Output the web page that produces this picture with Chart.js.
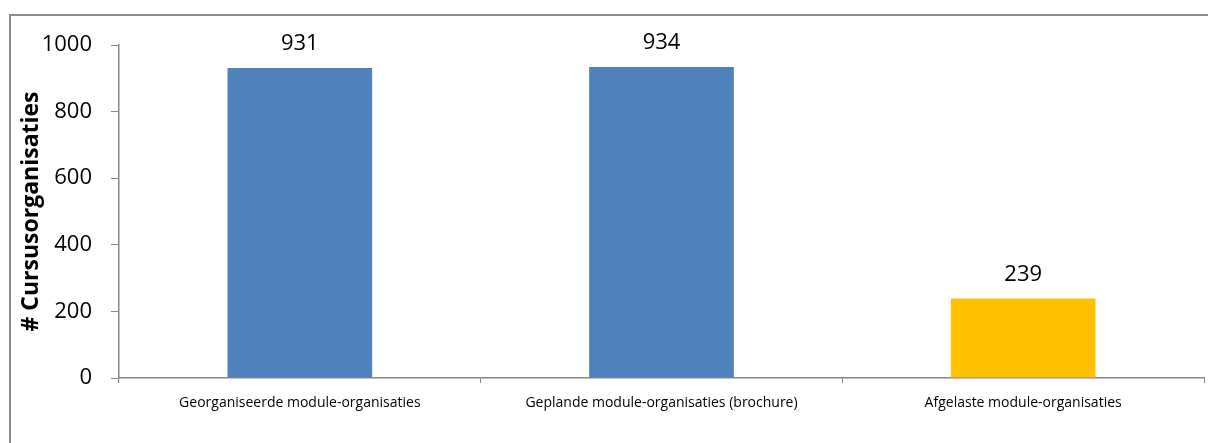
<!DOCTYPE html>
<html lang="nl">
<head>
    <meta charset="UTF-8">
    <title>Cursusorganisaties</title>
    <script src="https://cdn.jsdelivr.net/npm/chart.js"></script>
    <style>
        body {
            margin: 0;
            background: #fff;
            overflow: hidden;
        }
        .wrap {
            position: relative;
            width: 1208px;
            height: 443px;
        }
        .frame {
            position: absolute;
            left: 9px;
            top: 14px;
            width: 1300px;
            height: 600px;
            border-left: 2px solid #8c8c8c;
            border-top: 2px solid #8c8c8c;
        }
        canvas {
            position: absolute;
            left: 0;
            top: 0;
        }
    </style>
</head>
<body>
<div class="wrap">
    <div class="frame"></div>
    <canvas id="myChart" width="1208" height="443"></canvas>
</div>
<script>
    const categories = [
        'Georganiseerde module-organisaties',
        'Geplande module-organisaties (brochure)',
        'Afgelaste module-organisaties'
    ];
    const counts = [931, 934, 239];
    const barColors = ['#4f81bd', '#4f81bd', '#ffc000'];
    const yTicks = [0, 200, 400, 600, 800, 1000];

    const fontFamily = "'Open Sans', sans-serif";

    // waarden boven de staven
    const valueLabels = {
        id: 'valueLabels',
        afterDatasetsDraw(chart) {
            const ctx = chart.ctx;
            const meta = chart.getDatasetMeta(0);
            ctx.save();
            ctx.font = '22px ' + fontFamily;
            ctx.fillStyle = '#000';
            ctx.textAlign = 'center';
            ctx.textBaseline = 'bottom';
            meta.data.forEach((bar, i) => {
                ctx.fillText(counts[i], bar.x, bar.y - 13);
            });
            ctx.restore();
        }
    };

    new Chart(document.getElementById('myChart'), {
        type: 'bar',
        data: {
            labels: categories,
            datasets: [{
                data: counts,
                backgroundColor: barColors,
                borderWidth: 0,
                categoryPercentage: 1,
                barPercentage: 0.4
            }]
        },
        options: {
            responsive: false,
            animation: false,
            layout: {
                padding: { top: 45, right: 4, left: 0, bottom: 0 }
            },
            plugins: {
                legend: { display: false },
                tooltip: { enabled: false }
            },
            scales: {
                x: {
                    afterFit: s => { s.height = 65; },
                    grid: {
                        offset: true,
                        drawOnChartArea: false,
                        drawTicks: true,
                        tickLength: 5,
                        color: '#868686'
                    },
                    border: { color: '#868686', width: 1.5 },
                    ticks: {
                        color: '#000',
                        font: { family: fontFamily, size: 14 },
                        padding: 12,
                        maxRotation: 0
                    }
                },
                y: {
                    min: 0,
                    max: 1000,
                    afterFit: s => { s.width = 119; },
                    afterBuildTicks: s => { s.ticks = yTicks.map(v => ({ value: v })); },
                    grid: {
                        drawOnChartArea: false,
                        drawTicks: true,
                        tickLength: 8,
                        color: '#868686'
                    },
                    border: { color: '#868686', width: 1.5 },
                    ticks: {
                        color: '#000',
                        font: { family: fontFamily, size: 22 },
                        padding: 19,
                        callback: v => String(v)
                    },
                    title: {
                        display: true,
                        text: '# Cursusorganisaties',
                        color: '#000',
                        font: { family: fontFamily, size: 23, weight: 'bold' },
                        padding: { top: 18, bottom: 0 }
                    }
                }
            }
        },
        plugins: [valueLabels]
    });
</script>
</body>
</html>
